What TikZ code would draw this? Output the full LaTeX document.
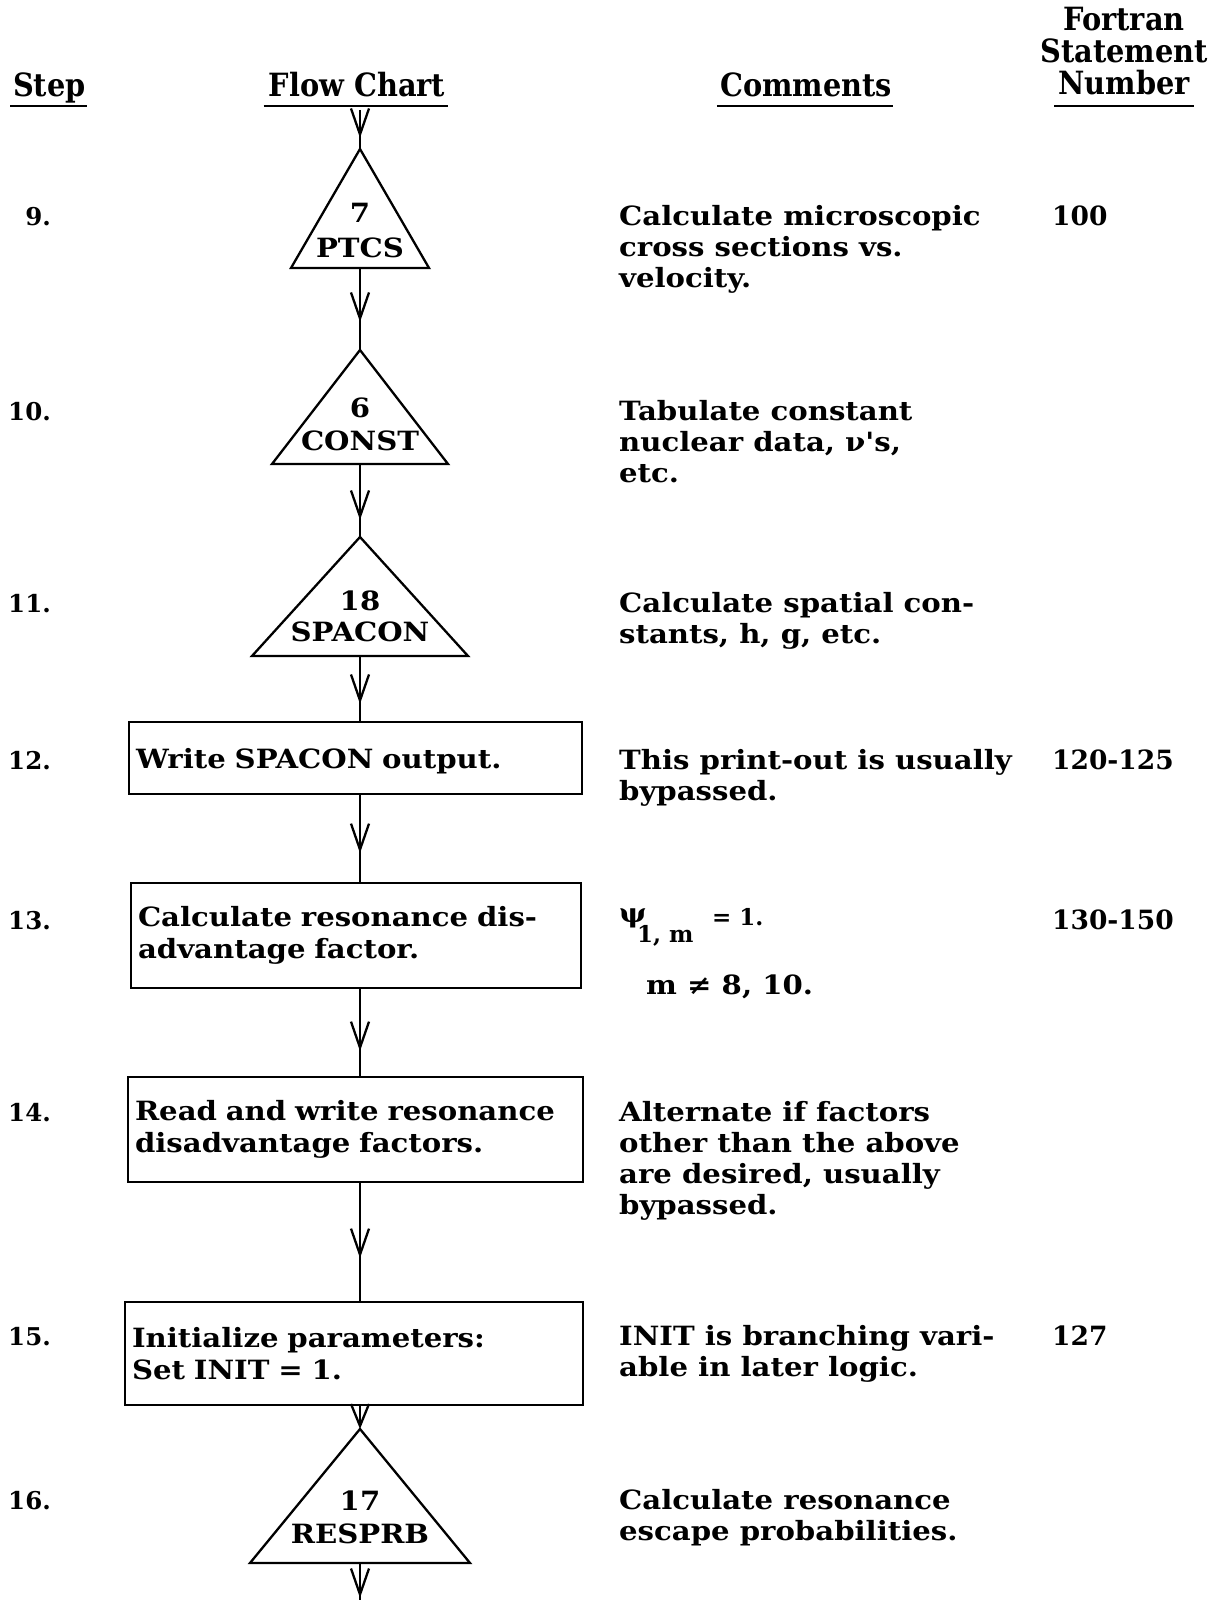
\documentclass[tikz,border=0pt]{standalone}
\usepackage{fontspec}
\setmainfont{DejaVu Serif}
\newfontfamily\hdrfont[FakeStretch=0.9]{DejaVu Serif}
\newfontfamily\txtfont[FakeStretch=1.1]{DejaVu Serif}
\usetikzlibrary{arrows.meta,decorations.markings}
\newcommand\cmtlines[1]{\begin{tabular}[t]{@{}l@{}}#1\end{tabular}}
\newcommand\tri[4]{%
  \draw (360,#2) -- (360-#4,#3) -- (360+#4,#3) -- cycle;
  \coordinate (#1top) at (360,#2);
  \coordinate (#1bot) at (360,#3);}
\begin{document}
\begin{tikzpicture}[x=1pt,y=-1pt,line width=2.3pt,line join=miter,
  cmt/.style={font=\txtfont\fontsize{26.5}{31}\selectfont\bfseries,inner sep=0pt,anchor=base west},
  small/.style={font=\fontsize{23}{28}\selectfont\bfseries,inner sep=0pt,anchor=base west},
  fnum/.style={font=\fontsize{26.5}{31}\selectfont\bfseries,inner sep=0pt,anchor=base west},
  num/.style={font=\fontsize{24.5}{31}\selectfont\bfseries,inner sep=0pt,anchor=base east},
  lab/.style={font=\txtfont\fontsize{26.5}{31}\selectfont\bfseries,inner sep=0pt,anchor=base},
  hdr/.style={font=\hdrfont\fontsize{32}{32}\selectfont\bfseries,inner sep=0pt,anchor=base},
  procbox/.style={draw,rectangle,inner xsep=7pt,inner ysep=0pt,align=left,
     font=\txtfont\fontsize{26.5}{31.5}\selectfont\bfseries},
  flow/.style={decoration={markings,mark=at position #1 with {\arrow{Straight Barb[length=26pt,width=18pt]}}},postaction={decorate}},
  tip/.style={-{Straight Barb[length=22pt,width=18pt]}},
]
\useasboundingbox (0,0) rectangle (1214,1600);

% headers
\node[hdr,anchor=base west] (hstep) at (12,97) {Step};
\node[hdr] (hflow) at (357,97) {Flow Chart};
\node[hdr] (hcom) at (806,97) {Comments};
\node[hdr] (hfor1) at (1124,31) {Fortran};
\node[hdr] (hfor2) at (1124,63) {Statement};
\node[hdr] (hfor3) at (1124,95) {Number};
\draw ([xshift=-2pt,yshift=-9pt]hstep.base west) -- ([xshift=0pt,yshift=-9pt]hstep.base east);
\draw ([xshift=-4pt,yshift=-9pt]hflow.base west) -- ([xshift=2pt,yshift=-9pt]hflow.base east);
\draw ([xshift=-2pt,yshift=-9pt]hcom.base west) -- ([xshift=0pt,yshift=-9pt]hcom.base east);
\draw ([xshift=-3pt,yshift=-11pt]hfor3.base west) -- ([xshift=3pt,yshift=-11pt]hfor3.base east);

% step numbers
\node[num] (s9) at (52,225) {9.};
\node[num] (s10) at (52,420) {10.};
\node[num] (s11) at (52,612) {11.};
\node[num] (s12) at (52,769) {12.};
\node[num] (s13) at (52,929) {13.};
\node[num] (s14) at (52,1121) {14.};
\node[num] (s15) at (52,1345) {15.};
\node[num] (s16) at (52,1509) {16.};

% triangles
\tri{t1}{149}{268}{69}
\tri{t2}{350}{464}{88}
\tri{t3}{537}{656}{108}
\tri{t4}{1429}{1563}{110}
\node[lab] (t1n) at (360,222) {7};
\node[lab] (t1l) at (360,257) {PTCS};
\node[lab] (t2n) at (360,417) {6};
\node[lab] (t2l) at (360,450) {CONST};
\node[lab] (t3n) at (360,610) {18};
\node[lab] (t3l) at (360,641) {SPACON};
\node[lab] (t4n) at (360,1510) {17};
\node[lab] (t4l) at (360,1543) {RESPRB};

% boxes
\node[procbox,minimum width=453pt,minimum height=72pt,text width=439pt,text depth=0pt] (b12) at (355.5,758) {Write SPACON output.};
\node[procbox,minimum width=450pt,minimum height=105pt,text width=436pt] (b13) at (356,935.5) {Calculate resonance dis-\\advantage factor.};
\node[procbox,minimum width=455pt,minimum height=105pt,text width=441pt] (b14) at (355.5,1129.5) {Read and write resonance\\disadvantage factors.};
\node[procbox,minimum width=458pt,minimum height=103pt,text width=444pt] (b15) at (354,1353.5) {Initialize parameters:\\Set INIT = 1.};

% connectors
\coordinate (start) at (360,110);
\coordinate (finish) at (360,1600);
\draw[flow=28pt] (start) -- (t1top);
\draw[flow=54pt] (t1bot) -- (t2top);
\draw[flow=56pt] (t2bot) -- (t3top);
\draw[flow=48pt] (t3bot) -- (b12.north -| start);
\draw[flow=58pt] (b12.south -| start) -- (b13.north -| start);
\draw[flow=62pt] (b13.south -| start) -- (b14.north -| start);
\draw[flow=75pt] (b14.south -| start) -- (b15.north -| start);
\draw[tip] (b15.south -| start) -- (t4top);
\draw[flow=35pt] (t4bot) -- (finish);

% comments
\node[cmt] (c9) at (618,225) {\cmtlines{Calculate microscopic\\cross sections vs.\\velocity.}};
\node[cmt] (c10) at (618,420) {\cmtlines{Tabulate constant\\nuclear data, ν's,\\etc.}};
\node[cmt] (c11) at (618,612) {\cmtlines{Calculate spatial con-\\stants, h, g, etc.}};
\node[cmt] (c12) at (618,769) {\cmtlines{This print-out is usually\\bypassed.}};
\node[cmt] (c13a) at (618,922) {ψ};
\node[small] (c13b) at (636,942) {1, m};
\node[small] (c13c) at (711,925) {= 1.};
\node[cmt] (c13d) at (645,994) {m ≠ 8, 10.};
\node[cmt] (c14) at (618,1121) {\cmtlines{Alternate if factors\\other than the above\\are desired, usually\\bypassed.}};
\node[cmt] (c15) at (618,1345) {\cmtlines{INIT is branching vari-\\able in later logic.}};
\node[cmt] (c16) at (618,1509) {\cmtlines{Calculate resonance\\escape probabilities.}};

% fortran statement numbers
\node[fnum] (f9) at (1051,225) {100};
\node[fnum] (f12) at (1051,769) {120-125};
\node[fnum] (f13) at (1051,929) {130-150};
\node[fnum] (f15) at (1051,1345) {127};
\end{tikzpicture}
\end{document}
